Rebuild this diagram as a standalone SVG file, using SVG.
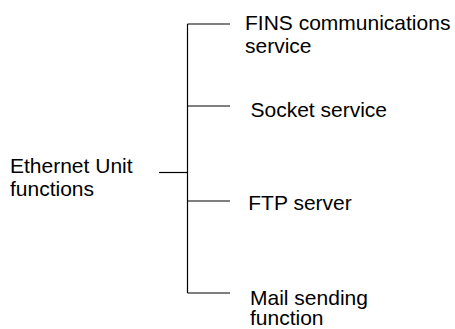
<svg xmlns="http://www.w3.org/2000/svg" width="455" height="329" viewBox="0 0 455 329">
<style>
text{font-family:"Liberation Sans",Arial,sans-serif;font-size:21px;fill:#000}
.c line{stroke:#000;stroke-width:1.2}
</style>
<rect width="455" height="329" fill="#fff"/>
<g id="connectors" class="c">
<line x1="187.5" y1="24" x2="187.5" y2="293"/>
<line x1="159" y1="172.5" x2="187.5" y2="172.5"/>
<line x1="187.5" y1="24" x2="230" y2="24"/>
<line x1="187.5" y1="106" x2="230" y2="106"/>
<line x1="187.5" y1="201" x2="230" y2="201"/>
<line x1="187.5" y1="293" x2="230" y2="293"/>
</g>
<g id="root"><text x="10" y="172.5">Ethernet Unit</text><text x="10" y="196">functions</text></g>
<g id="fins"><text x="245" y="30">FINS communications</text><text x="245" y="53">service</text></g>
<g id="socket"><text x="250.5" y="117.3">Socket service</text></g>
<g id="ftp"><text x="248.3" y="210">FTP server</text></g>
<g id="mail"><text x="250" y="304.7">Mail sending</text><text x="250" y="325">function</text></g>
</svg>
